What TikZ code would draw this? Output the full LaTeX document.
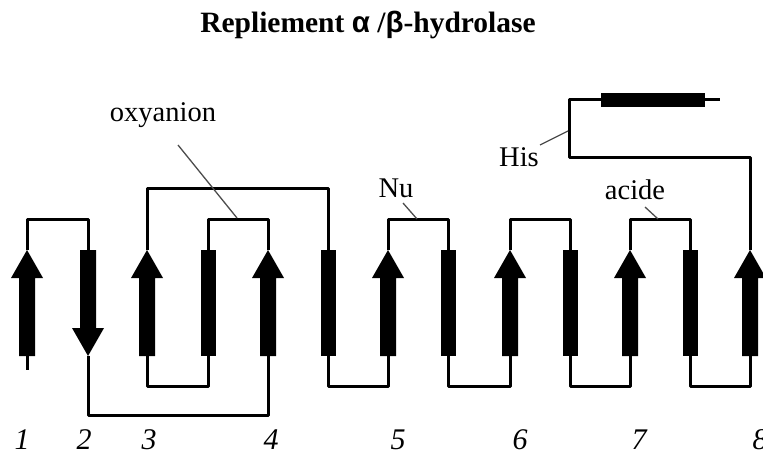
\documentclass[tikz,border=0pt]{standalone}
\usepackage{fontspec}
\setmainfont{Liberation Serif}
\newfontfamily\grk{Liberation Sans}
\usetikzlibrary{calc}
\tikzset{
  conn/.style={line width=3pt, line join=round},
  lead/.style={line width=1.3pt, draw=black!70},
  helixbox/.style={fill=black, draw=none, inner sep=0pt, minimum width=15pt, minimum height=106pt},
  strandbox/.style={draw=none, inner sep=0pt, minimum width=16pt, minimum height=106pt},
  lbl/.style={font=\fontsize{28.5}{30}\selectfont, inner sep=0pt},
  num/.style={font=\fontsize{30}{32}\selectfont\itshape, inner sep=0pt}
}
\newcommand\strandup[2]{%
  \node[strandbox] (#1) at (#2,303) {};
  \fill[shift={(#2,0)}] (-8,356) -- (-8,278) -- (-16,278) -- (0,250) -- (16,278) -- (8,278) -- (8,356) -- cycle;}
\newcommand\stranddown[2]{%
  \node[strandbox] (#1) at (#2,303) {};
  \fill[shift={(#2,0)}] (-8,250) -- (-8,328) -- (-16,328) -- (0,356) -- (16,328) -- (8,328) -- (8,250) -- cycle;}
\begin{document}
\begin{tikzpicture}[x=1pt,y=-1pt]
\useasboundingbox (0,0) rectangle (763,457);
% title
\node[inner sep=0pt, font=\fontsize{29.5}{32}\selectfont\bfseries] (title) at (368,25) {Repliement {\grk α} /{\grk β}-hydrolase};
% strands
\strandup{s1}{27}
\stranddown{s2}{88}
\strandup{s3}{147}
\strandup{s4}{268}
\strandup{s5}{388}
\strandup{s6}{510}
\strandup{s7}{630}
\strandup{s8}{750}
% helices
\node[helixbox] (hA) at (208,303) {};
\node[helixbox] (hB) at (328,303) {};
\node[helixbox] (hC) at (448,303) {};
\node[helixbox] (hD) at (570,303) {};
\node[helixbox] (hE) at (690,303) {};
\node[fill=black, inner sep=0pt, minimum width=104pt, minimum height=14pt] (hF) at (653,100) {};
\coordinate (tail1) at (27,370);
\coordinate (bendHis) at (569,158);
\coordinate (tailF) at (720,100);
% connectors
\draw[conn] (s1.south) -- (tail1);
\draw[conn] (s1.north) -- ++(0,-30) -| (s2.north);
\draw[conn] (s2.south) -- ++(0,59) -| (s4.south);
\draw[conn] (s3.south) -- ++(0,30) -| (hA.south);
\draw[conn] (hA.north) -- ++(0,-30) -| (s4.north);
\draw[conn] (s3.north) -- ++(0,-61) -| (hB.north);
\draw[conn] (hB.south) -- ++(0,30) -| (s5.south);
\draw[conn] (s5.north) -- ++(0,-30) -| (hC.north);
\draw[conn] (hC.south) -- ++(0,30) -| (s6.south);
\draw[conn] (s6.north) -- ++(0,-30) -| (hD.north);
\draw[conn] (hD.south) -- ++(0,30) -| (s7.south);
\draw[conn] (s7.north) -- ++(0,-30) -| (hE.north);
\draw[conn] (hE.south) -- ++(0,30) -| (s8.south);
\draw[conn] (s8.north) |- (bendHis) |- (hF.west);
\draw[conn] (hF.east) -- (tailF);
% labels
\node[lbl] (oxy) at (163,115) {oxyanion};
\node[lbl] (nu) at (396,188) {Nu};
\node[lbl] (acide) at (635,190) {acide};
\node[lbl] (his) at (519,157) {His};
\coordinate (oxyA) at (178,145); \coordinate (oxyB) at (237,218);
\coordinate (nuA) at (403,203); \coordinate (nuB) at (417,219);
\coordinate (acA) at (645,207); \coordinate (acB) at (658,219);
\coordinate (hisA) at (540,145); \coordinate (hisB) at (568,131);
\draw[lead] (oxyA) -- (oxyB);
\draw[lead] (nuA) -- (nuB);
\draw[lead] (acA) -- (acB);
\draw[lead] (hisA) -- (hisB);
% numbers
\node[num] (n1) at (22,440) {1};
\node[num] (n2) at (84,440) {2};
\node[num] (n3) at (149,440) {3};
\node[num] (n4) at (271,440) {4};
\node[num] (n5) at (398,440) {5};
\node[num] (n6) at (520,440) {6};
\node[num] (n7) at (639,440) {7};
\node[num] (n8) at (760,440) {8};
\end{tikzpicture}
\end{document}
